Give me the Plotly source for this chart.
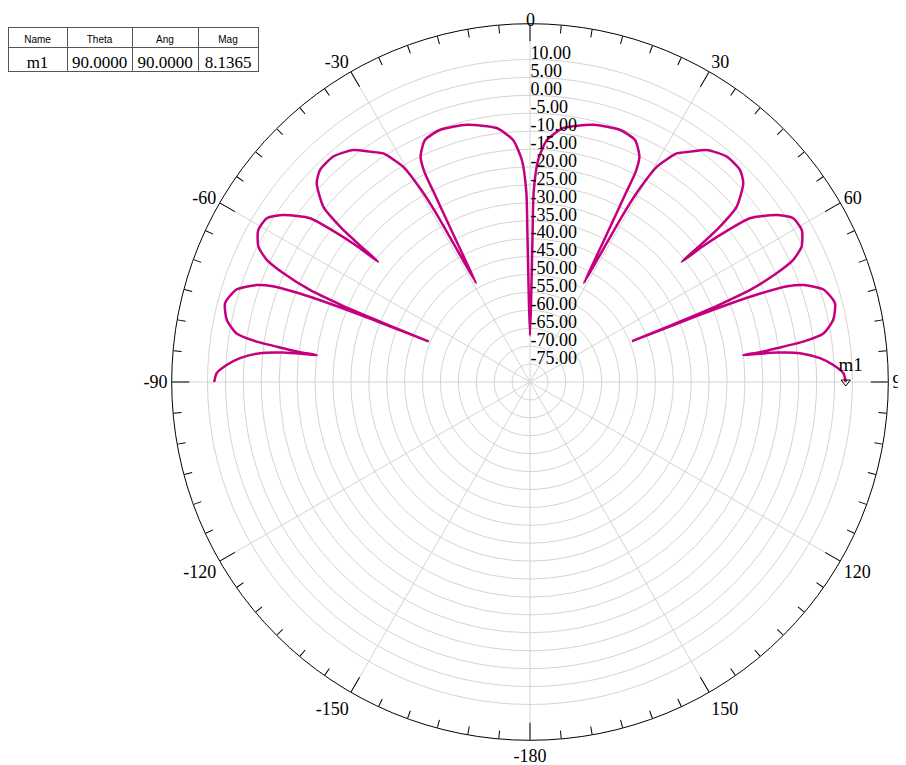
import plotly.graph_objects as go

# ---- data (theta in degrees, magnitude in dB) ----
theta_left = [0, -0.8, -1.0, -1.1, -2.1, -4.0, -7.5, -13.8, -19.7, -23.5, -25.9, -26.7, -26.9, -27.3, -27.8, -28.6,
              -28.9, -29.1, -29.6, -30.5, -32.7, -34.8, -37.3, -41.1, -44.7, -47.0, -49.7, -50.7, -51.2, -51.6,
              -51.9, -52.5, -53.3, -55.9, -58.1, -60.8, -63.5, -65.1, -66.2, -67.3, -67.8, -68.0, -68.1, -68.2,
              -68.4, -68.6, -69.0, -69.6, -70.5, -72.5, -75.5, -78.4, -80.6, -81.6, -82.2, -82.6, -82.8,
              -83.2, -83.9, -85.3, -86.8, -88.4, -90.0]
mag_left = [-67.0, -57.0, -38.0, -27.0, -18.0, -12.3, -8.5, -6.1, -5.3, -6.4, -10.1, -14.5, -21.3, -30.4, -39.4, -48.6,
            -35.8, -25.4, -17.5, -10.3, -4.2, -1.7, 1.4, 3.5, 3.3, 1.4, -4.4, -11.5, -18.8, -26.0,
            -17.8, -10.6, -3.5, 3.1, 6.5, 6.9, 4.7, 1.0, -4.8, -13.4, -23.0, -30.9, -37.8, -49.3,
            -30.0, -20.5, -10.7, -3.3, 1.0, 5.9, 7.9, 6.4, 3.0, -2.9, -10.5, -15.3, -20.0,
            -10.7, -4.2, 1.2, 4.8, 7.5, 8.14]
theta_right = [0, 0.8, 1.0, 1.1, 2.1, 4.0, 7.5, 13.8, 19.7, 23.5, 25.9, 26.7, 26.9, 27.3, 27.8, 28.6,
               28.9, 29.1, 29.6, 30.5, 32.7, 34.8, 37.3, 41.1, 44.7, 47.0, 49.7, 50.7, 51.2, 51.6,
               51.9, 52.5, 53.3, 55.9, 58.1, 60.8, 63.5, 65.1, 66.2, 67.3, 67.8, 68.0, 68.1, 68.2,
               68.4, 68.6, 69.0, 69.6, 70.5, 72.5, 75.5, 78.4, 80.6, 81.6, 82.2, 82.6, 82.8,
               83.2, 83.9, 85.3, 86.8, 88.4, 90.0]
mag_right = [-67.0, -57.0, -38.0, -27.0, -18.0, -12.3, -8.5, -6.1, -5.3, -6.4, -10.1, -14.5, -21.3, -30.4, -39.4, -48.6,
             -35.8, -25.4, -17.5, -10.3, -4.2, -1.7, 1.4, 3.5, 3.3, 1.4, -4.4, -11.5, -18.8, -26.0,
             -17.8, -10.6, -3.5, 3.1, 6.5, 6.9, 4.7, 1.0, -4.8, -13.4, -23.0, -30.9, -37.8, -49.3,
             -30.0, -20.5, -10.7, -3.3, 1.0, 5.9, 7.9, 6.4, 3.0, -2.9, -10.5, -15.3, -20.0,
             -10.7, -4.2, 1.2, 4.8, 7.5, 8.1365]

marker_name = "m1"
marker_theta = 90.0
marker_mag = 8.1365

table_header = ["Name", "Theta", "Ang", "Mag"]
table_row = ["m1", "90.0000", "90.0000", "8.1365"]

angle_ticks = [0, 30, 60, 90, 120, 150, 180, 210, 240, 270, 300, 330]
angle_labels = ["", "30", "60", "90", "120", "150", "-180", "-150", "-120", "-90", "-60", "-30"]
top_label = "0"
minor_ticks = [a for a in range(0, 360, 5) if a % 30 != 0]
radial_ticks = [-75, -70, -65, -60, -55, -50, -45, -40, -35, -30, -25, -20, -15, -10, -5, 0, 5, 10]
radial_labels = ["%.2f" % v for v in radial_ticks]
radial_range = [-80, 20]

# ---- figure ----
W, H = 906, 765
OFF = 8  # page body margin of the written html
cx, cy, R = 530 - OFF, 382 - OFF, 358.3
dom_x = [(cx - R) / W, (cx + R) / W]
dom_y = [1 - (cy + R) / H, 1 - (cy - R) / H]
LABEL_LIFT = 1.7  # labels sit a few pixels above their grid circle

curve_theta = theta_left[::-1] + theta_right[1:]
curve_mag = mag_left[::-1] + mag_right[1:]

LINE = "#c4007e"
GRID = "#d4d4d4"
SERIF = "Liberation Serif, Times New Roman, serif"
SANS = "Liberation Sans, Arial, sans-serif"

fig = go.Figure()

# helper polar: minor ticks + radial labels (drawn over main grid)
fig.add_trace(go.Scatterpolar(r=[radial_range[0]], theta=[0], mode="markers",
                              marker=dict(opacity=0), hoverinfo="skip", showlegend=False,
                              subplot="polar2"))

fig.add_trace(go.Scatterpolar(r=curve_mag, theta=curve_theta, mode="lines",
                              line=dict(color=LINE, width=2.5, shape="spline", smoothing=0.6),
                              showlegend=False, hoverinfo="skip"))

fig.add_trace(go.Scatterpolar(r=[marker_mag], theta=[marker_theta], mode="markers+text",
                              marker=dict(symbol="triangle-down-open", size=8, color="black",
                                          line=dict(width=1, color="black")),
                              text=["\u2007" + marker_name], textposition="top center",
                              textfont=dict(family=SERIF, size=19, color="black"),
                              showlegend=False, hoverinfo="skip"))

fig.add_trace(go.Table(
    domain=dict(x=[0, 250 / W], y=[1 - (72 - OFF) / H, 1 - (27 - OFF) / H]),
    columnwidth=[59, 65, 66, 60],
    header=dict(values=table_header, height=20, align="center",
                font=dict(family=SANS, size=10, color="black"),
                fill=dict(color="white"), line=dict(color="#555555", width=1)),
    cells=dict(values=[[v] for v in table_row], height=24, align="center",
               font=dict(family=SERIF, size=17, color="black"),
               fill=dict(color="white"), line=dict(color="#555555", width=1)),
))

fig.update_layout(
    width=W, height=H,
    margin=dict(l=0, r=0, t=0, b=0),
    paper_bgcolor="white",
    plot_bgcolor="white",
    polar=dict(
        domain=dict(x=dom_x, y=dom_y),
        bgcolor="rgba(0,0,0,0)",
        angularaxis=dict(
            rotation=90, direction="clockwise", thetaunit="degrees",
            tickmode="array", tickvals=angle_ticks, ticktext=angle_labels,
            ticks="inside", ticklen=17, tickwidth=1, tickcolor="black",
            showline=True, linecolor="black", linewidth=1,
            showgrid=True, gridcolor=GRID, gridwidth=1,
            tickfont=dict(family=SERIF, size=18, color="black"),
        ),
        radialaxis=dict(
            range=radial_range, angle=90,
            tickmode="array", tickvals=radial_ticks, showticklabels=False,
            showline=False, ticks="", showgrid=True, gridcolor=GRID, gridwidth=1,
        ),
    ),
    polar2=dict(
        domain=dict(x=dom_x, y=dom_y),
        bgcolor="rgba(0,0,0,0)",
        angularaxis=dict(
            rotation=90, direction="clockwise", thetaunit="degrees",
            tickmode="array", tickvals=minor_ticks, showticklabels=False,
            ticks="inside", ticklen=8, tickwidth=1, tickcolor="black",
            showline=False, showgrid=False,
        ),
        radialaxis=dict(
            range=radial_range, angle=90, tickangle=90,
            tickmode="array", tickvals=[v + LABEL_LIFT for v in radial_ticks], ticktext=radial_labels,
            showline=False, ticks="", showgrid=False,
            tickfont=dict(family=SERIF, size=18, color="black"),
        ),
    ),
    annotations=[dict(text=top_label, x=cx / W, y=1, xref="paper", yref="paper",
                      xanchor="center", yanchor="top", showarrow=False,
                      font=dict(family=SERIF, size=18, color="black"))],
)

fig.write_html("out.html")
